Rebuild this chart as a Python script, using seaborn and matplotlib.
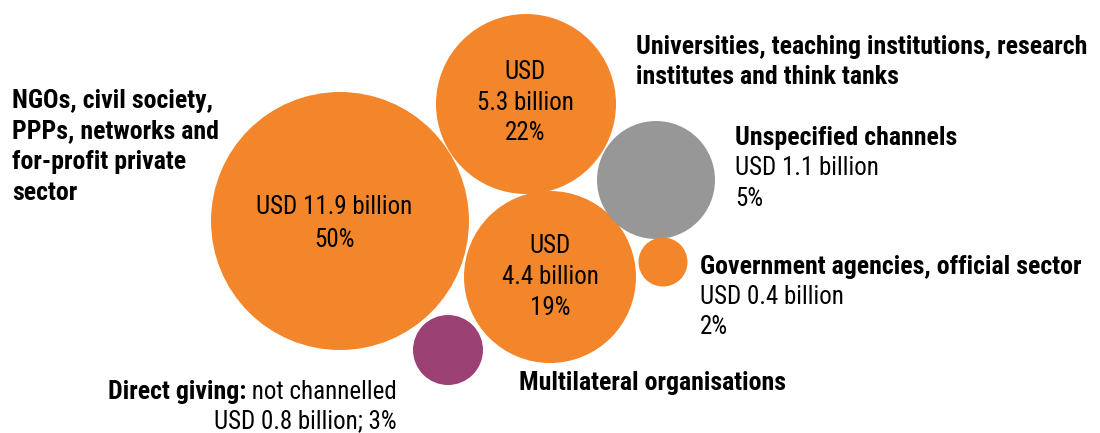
import pandas as pd
import matplotlib.pyplot as plt
import seaborn as sns

# data
channels = ["NGOs", "Universities", "Multilateral", "Unspecified", "Government", "Direct"]
usd_billion = [11.9, 5.3, 4.4, 1.1, 0.4, 0.8]
share_pct = [50, 22, 19, 5, 2, 3]

# layout (pixels, y down) and colours
bubble_x = [340, 526, 550, 656, 663, 448]
bubble_y = [221, 104, 277, 180, 262, 350]
bubble_r = [129, 90, 86, 59, 24.5, 35]
colors = {"NGOs": "#F3862A", "Universities": "#F3862A", "Multilateral": "#F3862A",
          "Unspecified": "#979797", "Government": "#F3862A", "Direct": "#9B4174"}

sns.set_style("white")
plt.rcParams['font.family'] = ['Roboto Condensed', 'Liberation Sans', 'DejaVu Sans']
plt.rcParams['text.color'] = 'black'

df = pd.DataFrame({"x": bubble_x, "y": bubble_y, "channel": channels})
sizes = {c: (1.44 * r) ** 2 for c, r in zip(channels, bubble_r)}

fig = plt.figure(figsize=(11, 4.33), dpi=100)
ax = fig.add_axes([0, 0, 1, 1])
sns.scatterplot(data=df, x="x", y="y", hue="channel", size="channel",
                palette=colors, sizes=sizes, linewidth=0, legend=False, ax=ax)
ax.set_xlim(0, 1100)
ax.set_ylim(433, 0)
ax.axis("off")

fs = 18
fsb = 18.6
inside = dict(ha="center", va="center", fontsize=fs)
ax.text(334, 207, f"USD {usd_billion[0]} billion", **inside)
ax.text(334, 240, f"{share_pct[0]}%", **inside)
ax.text(525, 72, "USD", **inside)
ax.text(525, 103, f"{usd_billion[1]} billion", **inside)
ax.text(525, 133, f"{share_pct[1]}%", **inside)
ax.text(550, 246, "USD", **inside)
ax.text(550, 277, f"{usd_billion[2]} billion", **inside)
ax.text(550, 308, f"{share_pct[2]}%", **inside)

bold = dict(ha="left", va="center", fontsize=fsb, fontweight="bold")
reg = dict(ha="left", va="center", fontsize=fs)

for i, line in enumerate(["NGOs, civil society,", "PPPs, networks and",
                          "for-profit private", "sector"]):
    ax.text(12, 101 + i * 30.5, line, **bold)

ax.text(636, 47, "Universities, teaching institutions, research", **bold)
ax.text(636, 77, "institutes and think tanks", **bold)

ax.text(735, 138, "Unspecified channels", **bold)
ax.text(735, 168, f"USD {usd_billion[3]} billion", **reg)
ax.text(735, 199, f"{share_pct[3]}%", **reg)

ax.text(700, 267, "Government agencies, official sector", **bold)
ax.text(700, 297, f"USD {usd_billion[4]} billion", **reg)
ax.text(700, 327, f"{share_pct[4]}%", **reg)

ax.text(519, 383, "Multilateral organisations", **bold)

t = ax.text(397, 392, " not channelled", ha="right", va="center", fontsize=fs)
fig.canvas.draw()
bb = t.get_window_extent()
ax.annotate("Direct giving:", xy=(bb.x0, 0), xycoords=("figure pixels", "data"),
            xytext=(0, 392), textcoords=("offset pixels", "data"),
            ha="right", va="center", fontsize=fsb, fontweight="bold")
ax.text(397, 421, f"USD {usd_billion[5]} billion; {share_pct[5]}%",
        ha="right", va="center", fontsize=fs)

fig.savefig("out.png", dpi=100)
